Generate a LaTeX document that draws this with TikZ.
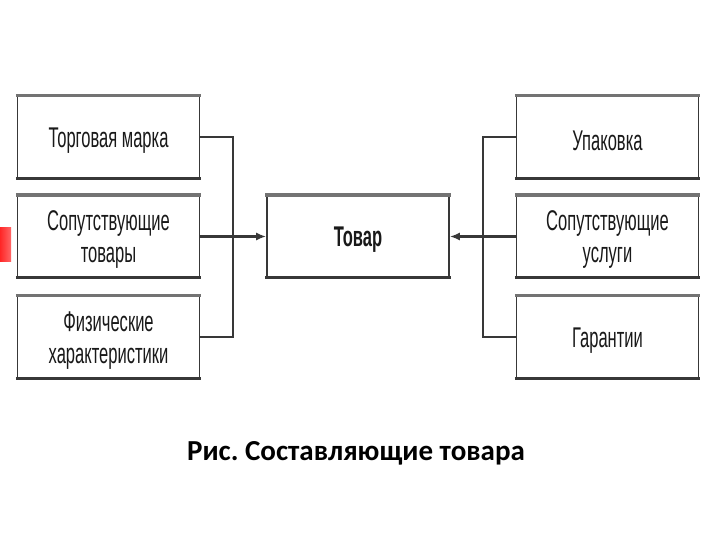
\documentclass[tikz,border=0pt]{standalone}
\usepackage{fontspec}
\setmainfont{Liberation Sans}
\newfontfamily\narrowfont[FakeStretch=0.58]{Liberation Sans}
\newfontfamily\capfont{Carlito}
\usetikzlibrary{arrows.meta}
\definecolor{edge}{gray}{0.22}
\definecolor{topedge}{gray}{0.45}
\definecolor{txt}{gray}{0.1}
\begin{document}
\begin{tikzpicture}[x=1pt,y=-1pt,
  box/.style={draw=edge, line width=1.6pt, fill=white, minimum width=182pt, minimum height=81pt,
    inner sep=0pt},
  boxtext/.style={label={[inner sep=0pt, yshift=-3.5pt, align=center, text=txt,
    font=\narrowfont\fontsize{28.5}{32}\selectfont]center:{#1}}},
  boldtext/.style={label={[inner sep=0pt, yshift=-3.5pt, align=center, text=txt,
    font=\narrowfont\bfseries\fontsize{28.5}{32}\selectfont]center:{#1}}},
  topline/.style={draw=topedge, line width=3.5pt},
  botline/.style={draw=edge, line width=2.8pt},
  conn/.style={draw=edge, line width=2.6pt},
  arr/.style={conn, -{Latex[length=10pt,width=8pt]}}]
\useasboundingbox (0,0) rectangle (720,540);
\fill[white] (0,0) rectangle (720,540);
% red strip at the left edge
\shade[left color=red!85!white, right color=red!60!white] (0,228) rectangle (11,261);

% left column
\node[box, boxtext={Торговая марка}] (tm) at (108.5,137) {};
\node[box, boxtext={Сопутствующие\\товары}] (st) at (108.5,236.5) {};
\node[box, boxtext={Физические\\характеристики}] (fh) at (108.5,337) {};
% centre
\node[box, boldtext={Товар}] (tov) at (358,236.5) {};
% right column
\node[box, boxtext={Упаковка}] (up) at (607.5,137) {};
\node[box, boxtext={Сопутствующие\\услуги}] (su) at (607.5,236.5) {};
\node[box, boxtext={Гарантии}] (gar) at (607.5,337) {};

\foreach \n in {tm,st,fh,tov,up,su,gar}{
  \draw[topline] ([xshift=-0.8pt]\n.north west) -- ([xshift=0.8pt]\n.north east);
  \draw[botline] ([xshift=-0.8pt]\n.south west) -- ([xshift=0.8pt]\n.south east);
}

% left connectors
\coordinate (lv) at (233,0);
\draw[conn] (tm.east) -| (lv |- fh.east) -- (fh.east);
\draw[arr] (st.east) -- (tov.west);
% right connectors
\coordinate (rv) at (483,0);
\draw[conn] (up.west) -| (rv |- gar.west) -- (gar.west);
\draw[arr] (su.west) -- (tov.east);

% caption
\node[font=\capfont\bfseries\fontsize{29}{34}\selectfont, text=black] (cap) at (356,453) {Рис.\ Составляющие товара};
\end{tikzpicture}
\end{document}
